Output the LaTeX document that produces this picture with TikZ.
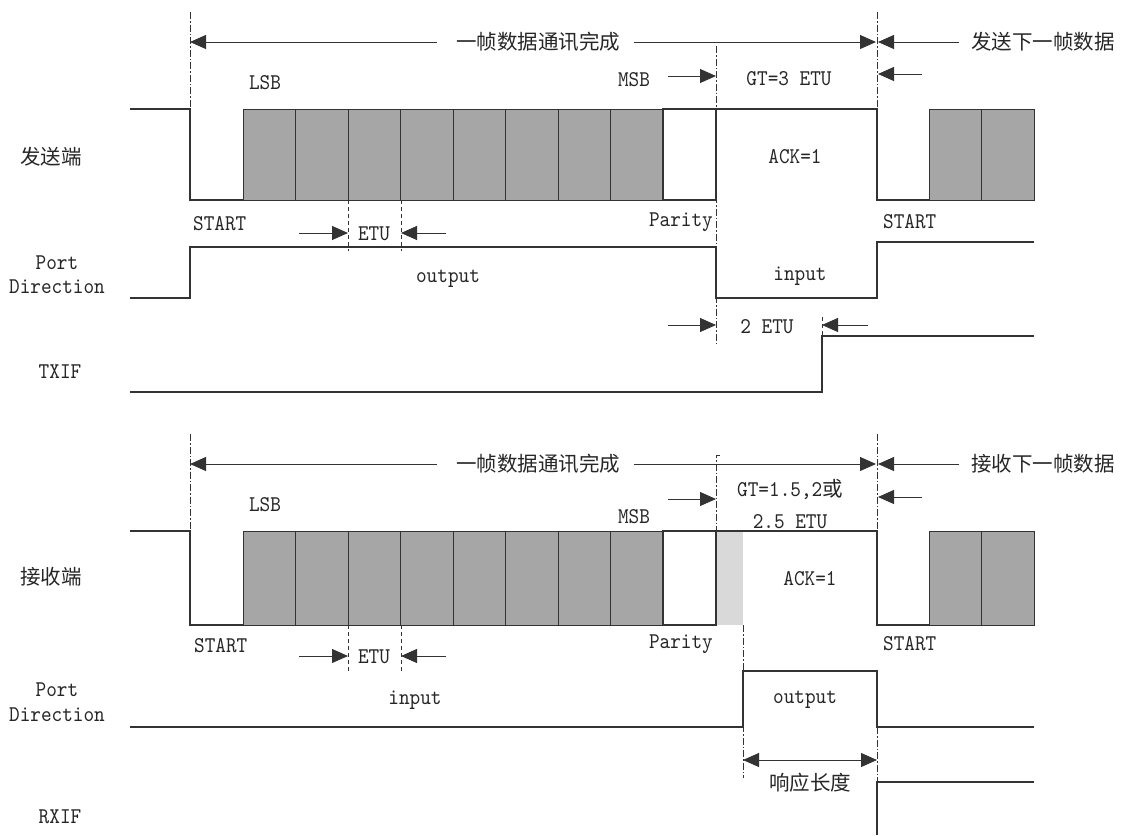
\documentclass[tikz,border=0pt]{standalone}
\usepackage{fontspec}
\newfontfamily\latfam{lmmono10-regular.otf}[FakeStretch=0.9]
\newfontfamily\cjkfam{Noto Sans CJK SC}
\newcommand\mylat{\latfam\fontsize{22.5}{24}\selectfont}
\newcommand\myzh{\cjkfam\fontsize{20.5}{22}\selectfont}
\usetikzlibrary{arrows.meta}
\definecolor{bitgray}{HTML}{A6A6A6}
\definecolor{ackgray}{HTML}{D9D9D9}
\definecolor{ln}{HTML}{333333}
\begin{document}
\begin{tikzpicture}[x=1pt,y=-1pt,
  every node/.style={inner sep=0pt, text=black!85},
  sig/.style={draw=ln, line width=1.1pt},
  dd/.style={draw=ln, line width=0.8pt, dash pattern=on 7pt off 2pt on 1.5pt off 2pt},
  dsh/.style={draw=ln, line width=0.8pt, dash pattern=on 4pt off 3pt},
  arr/.style={draw=ln, line width=1pt, -{Triangle[length=16pt,width=14pt]}},
  darr/.style={draw=ln, line width=1pt, {Triangle[length=16pt,width=14pt]}-{Triangle[length=16pt,width=14pt]}},
  bit/.style={fill=bitgray, draw=ln, line width=1pt},
  lat/.style={font=\mylat},
  zh/.style={font=\myzh}
]
\useasboundingbox (0,0) rectangle (1123,835);

%================ TOP: sender =================
\draw[dd] (190,12) -- (190,109);
\draw[dd] (877,12) -- (877,109);
\draw[dd] (716,46) -- (716,343);
\draw[dsh] (348,200) -- (348,251);
\draw[dsh] (401,200) -- (401,251);
\draw[dsh] (822,317) -- (822,336);

\node[zh] (f1) at (538,42) {一帧数据通讯完成};
\coordinate (f1L) at (190,42); \coordinate (f1R) at (876,42);
\draw[arr] ([xshift=-19pt]f1.west) -- (f1L);
\draw[arr] ([xshift=14pt]f1.east) -- (f1R);
\node[zh] (n1) at (1043,42) {发送下一帧数据};
\coordinate (n1L) at (878,42);
\draw[arr] ([xshift=-12pt]n1.west) -- (n1L);

\node[lat] (lsb1) at (265,83) {LSB};
\node[lat] (msb1) at (634,80) {MSB};
\coordinate (msb1R) at (716,76);
\draw[arr] (668,76) -- (msb1R);
\node[lat] (gt1) at (789,79) {GT=3 ETU};
\coordinate (gt1R) at (878,74);
\draw[arr] (922,74) -- (gt1R);

\foreach \i in {0,...,7} {
  \draw[bit] ({243+52.5*\i},109) rectangle ({243+52.5*(\i+1)},200);
}
\draw[sig] (663,109) rectangle (716,200);
\draw[bit] (929,109) rectangle (981.5,200);
\draw[bit] (981.5,109) rectangle (1034,200);
\draw[sig] (130,109) -- (190,109) -- (190,200) -- (243,200);
\draw[sig] (716,109) -- (877,109) -- (877,200) -- (929,200);

\node[zh] (snd) at (51,157) {发送端};
\node[lat] (ack1) at (795,157) {ACK=1};
\node[lat, anchor=west] (st1) at (193,224) {START};
\node[lat, anchor=east] (par1) at (713,222) {Parity};
\node[lat, anchor=west] (st2) at (883,222) {START};

\node[lat] (etu1) at (374,234) {ETU};
\coordinate (e1L) at (348,233); \coordinate (e1R) at (401,233);
\draw[arr] (299,233) -- (e1L);
\draw[arr] (446,233) -- (e1R);

\node[lat] (pd1a) at (57,263) {Port};
\node[lat] (pd1b) at (57,287) {Direction};
\draw[sig] (130,298) -- (190,298) -- (190,247) -- (716,247) -- (716,298) -- (877,298) -- (877,242) -- (1034,242);
\node[lat] (out1) at (448,279) {output};
\node[lat] (in1) at (800,276) {input};

\node[lat] (etu2) at (767,327) {2 ETU};
\coordinate (e2L) at (716,325); \coordinate (e2R) at (822,325);
\draw[arr] (668,325) -- (e2L);
\draw[arr] (868,325) -- (e2R);

\node[lat] (txif) at (60,372) {TXIF};
\draw[sig] (130,392) -- (822,392) -- (822,336) -- (1034,336);

%================ BOTTOM: receiver =================
\draw[dd] (190,434) -- (190,531);
\draw[dd] (877,434) -- (877,531);
\draw[dd] (720,455) -- (716,455) -- (716,531);
\draw[dd] (743,625) -- (743,778);
\draw[dd] (877,727) -- (877,782);
\draw[dsh] (348,625) -- (348,673);
\draw[dsh] (401,625) -- (401,673);

\node[zh] (f2) at (538,464) {一帧数据通讯完成};
\coordinate (f2L) at (190,464); \coordinate (f2R) at (876,464);
\draw[arr] ([xshift=-19pt]f2.west) -- (f2L);
\draw[arr] ([xshift=14pt]f2.east) -- (f2R);
\node[zh] (n2) at (1043,464) {接收下一帧数据};
\coordinate (n2L) at (878,464);
\draw[arr] ([xshift=-12pt]n2.west) -- (n2L);

\node[lat] (lsb2) at (265,505) {LSB};
\node[lat] (msb2) at (634,517) {MSB};
\coordinate (msb2R) at (716,499);
\draw[arr] (668,499) -- (msb2R);
\node[lat] (gt2a) at (790,489) {GT=1.5,2{\myzh 或}};
\node[lat] (gt2b) at (790,522) {2.5 ETU};
\coordinate (gt2R) at (878,497);
\draw[arr] (922,497) -- (gt2R);

\foreach \i in {0,...,7} {
  \draw[bit] ({243+52.5*\i},531) rectangle ({243+52.5*(\i+1)},625);
}
\fill[ackgray] (716.5,531.5) rectangle (743,625);
\draw[sig] (663,531) rectangle (716,625);
\draw[bit] (929,531) rectangle (981.5,625);
\draw[bit] (981.5,531) rectangle (1034,625);
\draw[sig] (130,531) -- (190,531) -- (190,625) -- (243,625);
\draw[sig] (716,531) -- (877,531) -- (877,625) -- (929,625);

\node[zh] (rcv) at (51,577) {接收端};
\node[lat] (ack2) at (810,579) {ACK=1};
\node[lat, anchor=west] (st3) at (194,646) {START};
\node[lat, anchor=east] (par2) at (713,644) {Parity};
\node[lat, anchor=west] (st4) at (883,644) {START};

\node[lat] (etu3) at (374,657) {ETU};
\coordinate (e3L) at (348,656); \coordinate (e3R) at (401,656);
\draw[arr] (299,656) -- (e3L);
\draw[arr] (446,656) -- (e3R);

\node[lat] (pd2a) at (57,690) {Port};
\node[lat] (pd2b) at (57,715) {Direction};
\draw[sig] (130,727) -- (743,727) -- (743,671) -- (877,671) -- (877,727) -- (1034,727);
\node[lat] (in2) at (415,700) {input};
\node[lat] (out2) at (805,700) {output};

\coordinate (rsL) at (743,760); \coordinate (rsR) at (877,760);
\draw[darr] (rsL) -- (rsR);
\node[zh] (resp) at (810,783) {响应长度};

\node[lat] (rxif) at (60,817) {RXIF};
\draw[sig] (877,835) -- (877,782) -- (1034,782);
\end{tikzpicture}
\end{document}
